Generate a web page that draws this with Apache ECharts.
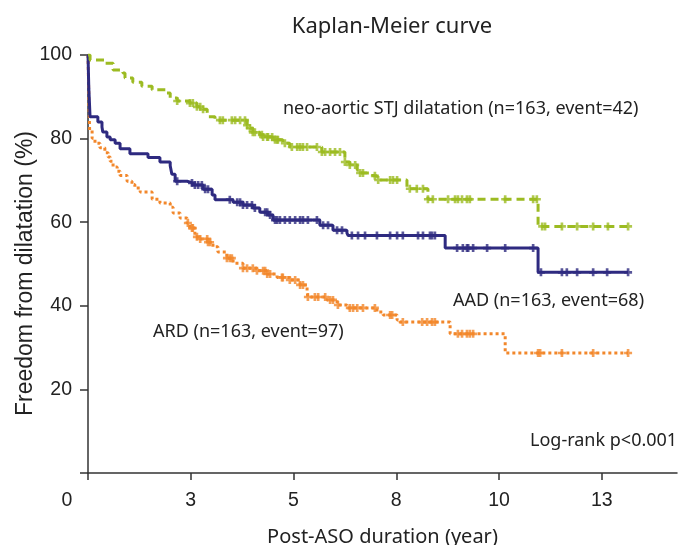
<!DOCTYPE html>
<html>
<head>
<meta charset="utf-8">
<script src="https://cdn.jsdelivr.net/npm/echarts@6/dist/echarts.min.js"></script>
<style>html,body{margin:0;padding:0;background:#fff}#c{width:685px;height:545px}</style>
</head>
<body>
<div id="c"></div>
<script>
// ---- data (years, survival %) ----
var xTickValues = [0, 2.5, 5, 7.5, 10, 12.5];
var xTickLabels = ['0', '3', '5', '8', '10', '13'];
var yTickValues = [0, 20, 40, 60, 80, 100];

// neo-aortic STJ dilatation
var stjT = [0,0.05,0.41,0.61,0.85,0.90,1.09,1.31,1.56,1.92,2.00,2.17,2.48,2.65,2.80,2.90,2.92,3.09,3.87,3.94,4.01,4.18,4.26,4.50,4.74,4.91,5.69,6.25,6.37,6.55,6.62,6.93,7.03,7.76,8.27,10.95,13.14];
var stjS = [100,98.8,98.0,96.4,95.7,94.5,93.5,92.5,91.7,90.9,89.7,89.0,88.5,87.6,87.0,86.2,85.2,84.4,83.2,82.5,81.5,80.9,80.4,79.7,78.9,78.0,76.8,74.4,73.7,72.5,71.8,71.1,70.1,68.0,65.5,59.0,59.0];
var stjCensor = [2.17,2.48,2.55,2.65,2.73,2.80,3.21,3.28,3.50,3.58,3.70,3.82,3.87,3.94,4.06,4.23,4.36,4.48,4.60,4.01,4.26,4.38,4.55,4.62,4.79,4.96,5.09,5.16,5.23,5.33,5.57,5.69,5.77,5.89,6.01,6.13,6.25,6.37,6.50,6.62,6.69,6.98,7.06,7.35,7.42,7.52,7.83,8.00,8.15,8.27,8.39,8.76,8.93,9.00,9.10,9.22,9.29,10.15,10.83,10.92,11.05,11.12,11.53,11.90,12.29,12.65,13.14];

// AAD
var aadT = [0,0.02,0.05,0.24,0.34,0.36,0.46,0.54,0.66,0.78,1.02,1.46,1.75,2.00,2.04,2.12,2.41,2.55,2.80,3.02,3.09,3.53,3.77,4.01,4.18,4.38,4.50,5.64,5.96,6.30,6.33,8.69,10.95,13.14];
var aadS = [100,92,85.2,84.0,82.8,81.6,80.4,79.7,78.9,77.6,76.4,75.5,74.4,73.5,71.5,69.8,69.4,68.9,67.9,66.5,65.4,64.8,64.1,63.4,62.4,61.7,60.5,59.3,58.1,57.4,56.8,53.8,48.0,48.0];
var aadCensor = [2.17,2.53,2.60,2.68,2.77,2.85,2.92,3.45,3.63,3.70,3.77,3.87,3.99,4.06,4.31,4.43,4.60,4.36,4.55,4.67,4.79,4.91,5.04,5.16,5.23,5.35,5.57,5.72,5.84,6.06,6.18,6.42,6.57,6.74,7.03,7.35,7.52,7.66,8.03,8.15,8.32,8.37,8.44,8.98,9.12,9.22,9.25,9.37,9.71,10.15,10.83,11.02,11.53,11.65,11.90,12.29,12.63,13.14];

// ARD
var ardT = [0,0.02,0.04,0.10,0.17,0.29,0.41,0.49,0.54,0.61,0.71,0.78,0.95,1.07,1.14,1.27,1.56,1.75,2.00,2.07,2.24,2.41,2.48,2.60,2.73,2.92,3.04,3.16,3.38,3.53,3.77,4.11,4.36,4.60,4.91,5.16,5.33,5.35,5.82,6.06,6.30,7.03,7.18,7.52,7.59,8.81,10.15,13.14];
var ardS = [100,90,82,80.1,78.9,77.8,76.6,75.6,74.6,73.2,72.2,71.2,69.8,69.0,68.2,67.2,65.5,64.6,63.6,62.2,61.0,59.8,58.6,56.5,56.0,55.2,54.1,52.9,51.4,50.2,49.0,48.4,47.6,46.8,46.2,45.0,43.3,42.1,41.4,40.2,39.5,38.5,37.8,36.6,36.1,33.3,28.7,28.7];
var ardCensor = [2.43,2.53,2.55,2.65,2.73,2.90,2.92,2.97,3.38,3.45,3.50,3.77,3.87,4.01,4.11,4.26,4.36,4.43,4.31,4.72,4.74,4.91,5.04,5.16,5.23,5.35,5.52,5.60,5.77,5.89,5.96,6.08,6.37,6.45,6.55,6.69,6.98,7.35,7.40,7.66,8.13,8.25,8.37,8.44,9.00,9.10,9.22,9.29,9.37,10.95,11.00,11.53,12.29,13.14];

var names = ['neo-aortic STJ dilatation (n=163, event=42)', 'AAD (n=163, event=68)', 'ARD (n=163, event=97)'];

// ---- build ----
function pairs(t, s) { return t.map(function (v, i) { return [v, s[i]]; }); }
function lookup(t, s, x) { var v = s[0]; for (var i = 0; i < t.length; i++) { if (t[i] <= x + 1e-9) v = s[i]; } return v; }
function censorPts(t, s, c) { return c.map(function (x) { return [x, lookup(t, s, x)]; }); }

var plus = 'path://M3,0h3v3h3v3h-3v3h-3v-3h-3v-3h3z';
var cG = '#9cbb22', cB = '#2e2a80', cO = '#f2872b';
var tickFont = 'Liberation Sans, Arial, sans-serif';
var textFont = 'Noto Sans, sans-serif';

function stepSeries(d, color, dash, z) {
  return { type: 'line', step: 'end', data: d, showSymbol: false, symbol: 'none', z: z,
    lineStyle: { color: color, width: 3, type: dash }, animation: false, silent: true };
}
function censorSeries(d, color, z) {
  return { type: 'scatter', data: d, symbol: plus, symbolSize: 8, z: z,
    itemStyle: { color: color }, animation: false, silent: true };
}

var chart = echarts.init(document.getElementById('c'), null, { renderer: 'canvas' });
chart.setOption({
  backgroundColor: '#fff',
  animation: false,
  title: { text: 'Kaplan-Meier curve', left: 392, top: 16, padding: 0, textAlign: 'center',
    textStyle: { fontFamily: textFont, fontSize: 22, fontWeight: 'normal', color: '#222' } },
  grid: { left: 88, right: 8, top: 55, bottom: 72, containLabel: false, outerBoundsMode: 'none' },
  xAxis: {
    type: 'value', min: 0, max: 14.33,
    name: 'Post-ASO duration (year)', nameLocation: 'middle', nameGap: 54, nameMoveOverlap: false,
    nameTextStyle: { fontFamily: textFont, fontSize: 20, color: '#222' },
    axisLine: { show: true, lineStyle: { color: '#333', width: 1.5 } },
    axisTick: { show: true, length: 7, lineStyle: { color: '#333', width: 1.5 }, customValues: xTickValues },
    axisLabel: { customValues: xTickValues, margin: 17.5, fontFamily: tickFont, fontSize: 19.5, color: '#222',
      formatter: function (v) { var i = xTickValues.indexOf(v); var s = i >= 0 ? xTickLabels[i] : ''; return v === 0 ? '{z|' + s + '}' : s; },
      rich: { z: { fontFamily: tickFont, fontSize: 19.5, color: '#222', padding: [0, 42, 0, 0] } } },
    splitLine: { show: false }
  },
  yAxis: {
    type: 'value', min: 0, max: 100, interval: 20,
    name: 'Freedom from dilatation (%)', nameLocation: 'middle', nameGap: 51, nameMoveOverlap: false,
    nameTextStyle: { fontFamily: tickFont, fontSize: 23, color: '#222', padding: [0, 19, 0, 0] },
    axisLine: { show: true, lineStyle: { color: '#333', width: 1.5 } },
    axisTick: { show: true, length: 8, lineStyle: { color: '#333', width: 1.5 } },
    axisLabel: { margin: 16, fontFamily: tickFont, fontSize: 19.5, color: '#222',
      formatter: function (v) { return v === 0 ? '' : String(v); } },
    splitLine: { show: false }
  },
  graphic: [
    { type: 'text', left: 283, top: 100, style: { text: names[0], font: '18px ' + textFont, fill: '#222' } },
    { type: 'text', left: 453, top: 292, style: { text: names[1], font: '18px ' + textFont, fill: '#222' } },
    { type: 'text', left: 153, top: 323, style: { text: names[2], font: '18px ' + textFont, fill: '#222' } },
    { type: 'text', left: 530, top: 432, style: { text: 'Log-rank p<0.001', font: '18px ' + textFont, fill: '#222' } }
  ],
  series: [
    stepSeries(pairs(ardT, ardS), cO, [3, 3], 2),
    stepSeries(pairs(aadT, aadS), cB, 'solid', 3),
    stepSeries(pairs(stjT, stjS), cG, [8, 5], 4),
    censorSeries(censorPts(ardT, ardS, ardCensor), cO, 5),
    censorSeries(censorPts(aadT, aadS, aadCensor), cB, 6),
    censorSeries(censorPts(stjT, stjS, stjCensor), cG, 7)
  ]
});
</script>
</body>
</html>
